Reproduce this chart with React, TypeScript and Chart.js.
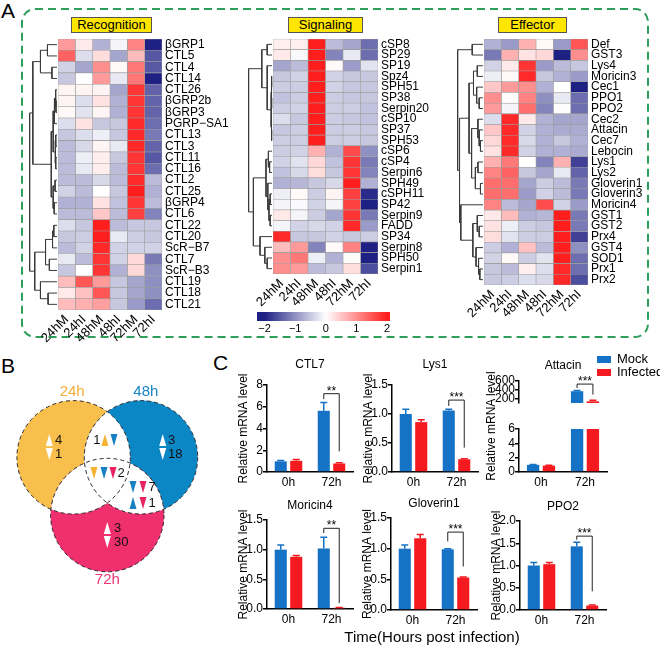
import React, { useEffect, useRef } from 'react';
import { Chart, registerables } from 'chart.js';

Chart.register(...registerables);

const FONT = 'Arial, "Liberation Sans", Helvetica, sans-serif';
Chart.defaults.font.family = FONT;
Chart.defaults.color = '#000';

// ================= Panel A : heatmaps =================
const hmColumns = ['24hM', '24hI', '48hM', '48hI', '72hM', '72hI'];

const recognitionGenes = ['βGRP1', 'CTL5', 'CTL4', 'CTL14', 'CTL26', 'βGRP2b', 'βGRP3', 'PGRP−SA1', 'CTL13', 'CTL3', 'CTL11', 'CTL16', 'CTL2', 'CTL25', 'βGRP4', 'CTL6', 'CTL22', 'CTL20', 'ScR−B7', 'CTL7', 'ScR−B3', 'CTL19', 'CTL18', 'CTL21'];
const recognitionValues = [
  [0.9, 0.2, -0.7, -0.1, 1.1, -2.0],
  [1.4, -0.3, 0.3, -0.8, 0.6, -1.5],
  [-0.4, -0.8, 1.0, 0.05, 1.2, -1.5],
  [-0.5, 0.0, 0.9, -0.2, 1.2, -2.0],
  [0.1, 0.1, 0.1, -0.8, 1.8, -1.4],
  [0.1, -0.3, 0.25, -0.7, 1.8, -1.4],
  [0.05, -0.25, 0.1, -0.7, 1.8, -1.4],
  [-0.3, 0.25, -0.5, -0.5, 1.9, -1.3],
  [-0.5, -0.3, -0.15, -0.5, 1.9, -1.2],
  [-0.6, -0.35, 0.1, -0.2, 1.9, -1.4],
  [-0.6, -0.15, 0.15, -0.5, 1.8, -1.5],
  [-0.6, -0.2, 0.15, -0.6, 1.8, -1.3],
  [-0.6, -0.6, -0.35, -0.6, 1.9, -0.6],
  [-0.4, -0.6, 0.0, -0.5, 2.0, -0.7],
  [-0.7, -0.7, 0.25, -0.55, 1.8, -0.6],
  [-0.6, -0.6, 0.5, -0.6, 1.7, -1.1],
  [-0.3, -0.5, 2.0, -0.6, -0.5, -0.5],
  [-0.5, -0.45, 2.0, -0.2, -0.45, -0.5],
  [-0.6, -0.4, 1.9, -0.4, -0.4, -0.4],
  [-0.2, -0.6, 1.8, -0.4, 0.35, -1.2],
  [-0.5, 0.0, 1.8, -0.7, 0.35, -1.0],
  [0.6, 1.5, 0.9, -0.5, -0.8, -1.0],
  [0.2, 0.55, 1.5, -0.5, -0.8, -1.0],
  [0.6, 0.7, 0.85, -0.5, -0.9, -1.3],
];
// dendrogram: [height, left, right], leaves = row index
const recognitionTree = [2.15,
  [1.9,
    [1.3, [0.75, 0, 1], [0.4, 2, 3]],
    [0.45,
      [0.3, [0.2, [0.12, 4, [0.08, 5, 6]], 7], [0.15, [0.1, 8, 9], [0.1, 10, 11]]],
      [0.3, [0.15, 12, 13], [0.22, 14, 15]]]],
  [1.75,
    [0.9, [0.35, [0.25, 16, 17], 18], [0.6, 19, 20]],
    [1.3, 21, [0.7, 22, 23]]]];

const signalingGenes = ['cSP8', 'SP29', 'SP19', 'Spz4', 'SPH51', 'SP38', 'Serpin20', 'cSP10', 'SP37', 'SPH53', 'cSP6', 'cSP4', 'Serpin6', 'SPH49', 'cSPH11', 'SP42', 'Serpin9', 'FADD', 'SP34', 'Serpin8', 'SPH50', 'Serpin1'];
const signalingValues = [
  [0.15, 0.15, 2.0, -0.6, -0.8, -1.3],
  [0.2, -0.05, 2.0, -1.1, -0.2, -1.3],
  [-0.8, -0.6, 2.0, 0.05, -0.9, -0.25],
  [-0.5, -0.4, 2.0, -0.4, -0.5, -0.5],
  [-0.45, -0.45, 2.0, -0.4, -0.5, -0.5],
  [-0.55, -0.45, 2.0, -0.45, -0.5, -0.5],
  [-0.45, -0.4, 2.0, -0.45, -0.45, -0.55],
  [-0.3, -0.5, 2.0, -0.45, -0.5, -0.55],
  [-0.5, -0.45, 2.0, -0.45, -0.45, -0.5],
  [-0.45, -0.45, 2.0, -0.45, -0.45, -0.5],
  [-0.45, -0.4, 0.7, -0.7, 1.6, -1.0],
  [-0.4, -0.25, 0.35, -0.55, 1.8, -1.2],
  [-0.55, -0.35, 0.3, -0.5, 1.8, -1.1],
  [-0.7, -0.65, -0.5, -0.35, 2.0, -0.7],
  [-0.15, 0.05, -0.45, 0.1, 1.7, -1.9],
  [-0.1, -0.05, -0.4, -0.1, 1.7, -2.0],
  [0.2, -0.1, -0.45, -0.8, 1.8, -1.2],
  [-0.1, -0.4, -0.35, -0.4, 1.9, -0.9],
  [1.9, -0.5, -0.5, -0.4, -0.5, -0.45],
  [0.6, 0.9, -1.1, 0.05, 1.1, -2.0],
  [1.0, 1.2, -0.15, -0.7, 0.03, -2.0],
  [1.0, 0.9, -0.6, -0.5, 0.3, -1.6],
];
const signalingTree = [1.95,
  [0.85, [0.4, 0, 1], [0.4, 2, [0.08, [0.05, [0.03, 3, 4], [0.03, 5, 6]], [0.05, 7, [0.03, 8, 9]]]]],
  [1.55,
    [0.5, [0.3, 10, [0.2, 11, 12]], [0.35, 13, [0.25, [0.15, 14, 15], [0.15, 16, 17]]]],
    [1.0, 18, [0.6, 19, [0.4, 20, 21]]]]];

const effectorGenes = ['Def', 'GST3', 'Lys4', 'Moricin3', 'Cec1', 'PPO1', 'PPO2', 'Cec2', 'Attacin', 'Cec7', 'Lebocin', 'Lys1', 'Lys2', 'Gloverin1', 'Gloverin3', 'Moricin4', 'GST1', 'GST2', 'Prx4', 'GST4', 'SOD1', 'Prx1', 'Prx2'];
const effectorValues = [
  [-0.7, -0.9, 0.7, 0.05, -0.9, 1.5],
  [-1.2, 0.7, 0.25, 0.35, -2.0, 1.0],
  [-0.4, 0.2, 1.8, -0.9, -0.6, -0.5],
  [-0.15, 0.05, 1.9, -0.5, -0.7, -0.9],
  [0.5, 0.9, 1.0, -0.7, 0.0, -2.0],
  [1.0, 0.03, 1.1, -1.0, -0.2, -1.3],
  [0.9, -0.1, 1.3, -1.1, -0.03, -1.3],
  [-0.3, 1.9, 0.2, -0.7, -0.8, -0.8],
  [0.5, 1.9, -0.4, -0.7, -0.75, -0.75],
  [0.35, 1.9, -0.35, -0.7, -0.5, -0.7],
  [0.25, 1.9, -0.4, -0.7, -0.7, -0.75],
  [0.7, 1.2, 0.02, -1.1, 0.7, -1.7],
  [1.1, 1.4, -0.5, -0.8, -0.2, -1.4],
  [1.3, 1.3, -0.8, -0.45, -0.6, -1.2],
  [1.3, 1.3, -0.9, -0.4, -0.6, -1.2],
  [1.1, -0.6, -0.8, 1.6, -0.4, -0.9],
  [0.2, 0.6, -0.7, -0.65, 2.0, -1.2],
  [0.25, -0.15, -0.45, -0.5, 2.0, -1.2],
  [0.3, -0.25, -0.45, -0.45, 2.0, -1.7],
  [-0.45, -0.7, 0.55, -0.6, 2.0, -1.0],
  [-0.4, 0.05, -0.45, -0.25, 2.0, -1.3],
  [-0.5, -0.6, 0.15, -0.3, 1.9, -1.3],
  [-0.5, -0.45, -0.3, -0.35, 1.9, -1.6],
];
const effectorTree = [2.0,
  [0.85, 0, 1],
  [1.85,
    [1.1,
      [0.75, [0.45, 2, 3], [0.5, 4, [0.3, 5, 6]]],
      [0.9, [0.4, 7, [0.3, 8, [0.2, 9, 10]]], [0.6, [0.4, 11, 12], [0.2, 13, 14]]]],
    [1.75, 15, [0.8, [0.45, 16, [0.3, 17, 18]], [0.55, 19, [0.35, 20, [0.25, 21, 22]]]]]]];

const colorbarTicks = [-2, -1, 0, 1, 2];

// ================= Panel B : Venn =================
const vennSets = ['24h', '48h', '72h'];
const vennUp = [4, 3, 3];
const vennDown = [1, 18, 30];
const vennShared = [
  { sets: [0, 1], dirs: ['up', 'down'], count: 1 },
  { sets: [0, 1, 2], dirs: ['down', 'down', 'down'], count: 2 },
  { sets: [1, 2], dirs: ['down', 'down'], count: 7 },
  { sets: [1, 2], dirs: ['up', 'down'], count: 1 },
];

// ================= Panel C : qPCR bars =================
const timePoints = ['0h', '72h'];
const ctl7Mock = [0.98, 5.63];
const ctl7MockErr = [0.08, 0.75];
const ctl7Inf = [1.03, 0.78];
const ctl7InfErr = [0.12, 0.08];
const lys1Mock = [1.0, 1.06];
const lys1MockErr = [0.08, 0.02];
const lys1Inf = [0.86, 0.22];
const lys1InfErr = [0.04, 0.01];
const attacinMock = [1.0, 368];
const attacinMockErr = [0.05, 18];
const attacinInf = [0.88, 138];
const attacinInfErr = [0.06, 25];
const moricin4Mock = [1.0, 1.02];
const moricin4MockErr = [0.08, 0.19];
const moricin4Inf = [0.88, 0.02];
const moricin4InfErr = [0.02, 0.005];
const gloverin1Mock = [1.0, 0.99];
const gloverin1MockErr = [0.06, 0.01];
const gloverin1Inf = [1.17, 0.53];
const gloverin1InfErr = [0.06, 0.01];
const ppo2Mock = [1.0, 1.43];
const ppo2MockErr = [0.07, 0.09];
const ppo2Inf = [1.03, 0.1];
const ppo2InfErr = [0.04, 0.01];

// significance brackets at 72h: top, left leg end, right leg end (in data units)
const ctl7Sig = { index: 1, top: 7.2, left: 6.7, right: 1.9, label: '**' };
const lys1Sig = { index: 1, top: 1.24, left: 1.14, right: 0.42, label: '***' };
const attacinSig = { index: 1, top: 530, left: 440, right: 290, label: '***' };
const moricin4Sig = { index: 1, top: 1.36, left: 1.28, right: 0.1, label: '**' };
const gloverin1Sig = { index: 1, top: 1.27, left: 1.12, right: 0.71, label: '***' };
const ppo2Sig = { index: 1, top: 1.66, left: 1.58, right: 0.42, label: '***' };

// ================= styling =================
const BLUE = '#1672C4';
const RED = '#F41A1F';
const NAVY = [30, 32, 132];
const WHITE = [255, 255, 255];
const HOT = [255, 30, 30];

function heatColor(v: number) {
  const t = Math.max(-1, Math.min(1, v / 2));
  const target = t < 0 ? NAVY : HOT;
  const f = Math.abs(t);
  const c = WHITE.map((w, i) => Math.round(w + (target[i] - w) * f));
  return `rgb(${c[0]},${c[1]},${c[2]})`;
}

function dendroSegments(tree: any) {
  const segs: any[] = [];
  const walk = (t: any): { y: number; h: number } => {
    if (typeof t === 'number') return { y: t, h: 0 };
    const [h, a, b] = t;
    const l = walk(a);
    const r = walk(b);
    segs.push([{ x: l.h, y: l.y }, { x: h, y: l.y }, { x: h, y: r.y }, { x: r.h, y: r.y }]);
    return { y: (l.y + r.y) / 2, h };
  };
  walk(tree);
  return segs;
}

function ChartBox({ x, y, w, h, make }: any) {
  const ref = useRef<HTMLCanvasElement | null>(null);
  useEffect(() => {
    const chart = new Chart(ref.current as HTMLCanvasElement, make());
    return () => chart.destroy();
  }, []);
  return <canvas ref={ref} width={w} height={h} style={{ position: 'absolute', left: x, top: y, width: w, height: h }} />;
}

// ---------- heatmap ----------
const HM_LPAD = 32;
const HM_RW = 72;
const HM_BH = 36;

function heatmapConfig(genes: string[], values: number[][]) {
  return {
    type: 'bar',
    data: {
      labels: genes,
      datasets: hmColumns.map((col, j) => ({
        label: col,
        data: values.map(() => 1),
        backgroundColor: values.map((row) => heatColor(row[j])),
        borderColor: '#9c9c9c',
        borderWidth: 0.6,
        borderSkipped: false,
        barPercentage: 1,
        categoryPercentage: 1,
      })),
    },
    options: {
      indexAxis: 'y',
      animation: false,
      responsive: false,
      layout: { padding: { left: HM_LPAD, right: 0, top: 0, bottom: 0 } },
      plugins: { legend: { display: false }, tooltip: { enabled: false } },
      scales: {
        x: {
          type: 'linear', stacked: true, min: 0, max: hmColumns.length,
          grid: { display: false, drawTicks: false }, border: { display: false },
          afterBuildTicks: (s: any) => { s.ticks = hmColumns.map((_, i) => ({ value: i + 0.5 })); },
          ticks: { autoSkip: false, minRotation: 45, maxRotation: 45, padding: 2, font: { size: 13 }, color: '#000', callback: (_v: any, i: number) => hmColumns[i] },
          afterFit: (s: any) => { s.height = HM_BH; s.paddingLeft = 0; s.paddingRight = 0; },
        },
        y: {
          type: 'category', stacked: true, position: 'right',
          grid: { display: false, drawTicks: false }, border: { display: false },
          ticks: { autoSkip: false, padding: 3, font: { size: 12 }, color: '#000' },
          afterFit: (s: any) => { s.width = HM_RW; s.paddingTop = 0; s.paddingBottom = 0; },
        },
      },
    },
  };
}

function dendroConfig(tree: any, n: number, treeMax: number) {
  return {
    type: 'scatter',
    data: {
      datasets: dendroSegments(tree).map((s) => ({
        data: s, showLine: true, borderColor: '#3a3a3a', borderWidth: 1, pointRadius: 0, clip: false, tension: 0,
      })),
    },
    options: {
      animation: false,
      responsive: false,
      layout: { padding: { left: 1, right: 1, top: 0, bottom: 0 } },
      plugins: { legend: { display: false }, tooltip: { enabled: false } },
      scales: {
        x: { type: 'linear', display: false, min: 0, max: treeMax, reverse: true },
        y: { type: 'linear', display: false, min: -0.5, max: n - 0.5, reverse: true },
      },
    },
  };
}

function Heatmap({ genes, values, tree, treeMax, cellsL, top, cellsW, cellsH, dendroW }: any) {
  return (
    <>
      <ChartBox x={cellsL - dendroW - 1} y={top} w={dendroW + 1} h={cellsH} make={() => dendroConfig(tree, genes.length, treeMax)} />
      <ChartBox x={cellsL - HM_LPAD} y={top} w={HM_LPAD + cellsW + HM_RW} h={cellsH + HM_BH} make={() => heatmapConfig(genes, values)} />
    </>
  );
}

// ---------- colour bar ----------
function colorbarConfig() {
  const gradientPlugin = {
    id: 'gradientFill',
    beforeDatasetsDraw(chart: any) {
      const { ctx, chartArea: a } = chart;
      const xs = chart.scales.x;
      const g = ctx.createLinearGradient(a.left, 0, a.right, 0);
      const pos = (v: number) => Math.max(0, Math.min(1, (xs.getPixelForValue(v) - a.left) / (a.right - a.left)));
      g.addColorStop(0, heatColor(xs.min));
      colorbarTicks.forEach((v) => g.addColorStop(pos(v), heatColor(v)));
      g.addColorStop(1, heatColor(xs.max));
      ctx.save();
      ctx.fillStyle = g;
      ctx.fillRect(a.left, a.top, a.right - a.left, a.bottom - a.top);
      ctx.restore();
    },
  };
  return {
    type: 'scatter',
    data: { datasets: [] },
    options: {
      animation: false,
      responsive: false,
      layout: { padding: { left: 7, right: 10, top: 0, bottom: 0 } },
      plugins: { legend: { display: false }, tooltip: { enabled: false } },
      scales: {
        x: {
          type: 'linear', min: -2.25, max: 2.1,
          grid: { display: false, drawTicks: false }, border: { display: false },
          afterBuildTicks: (s: any) => { s.ticks = colorbarTicks.map((v) => ({ value: v })); },
          ticks: { autoSkip: false, padding: 1, font: { size: 11 }, color: '#000', callback: (v: any) => (v < 0 ? '−' + Math.abs(v) : String(v)) },
          afterFit: (s: any) => { s.height = 15; s.paddingLeft = 0; s.paddingRight = 0; },
        },
        y: { display: false, min: 0, max: 1 },
      },
    },
    plugins: [gradientPlugin],
  };
}

// ---------- Venn ----------
const VENN_R = 1;
const vennCx = [-0.594, 0.594, 0];
const vennCy = [0, 0, -1.018];
const vennFill = ['#F9BF4C', '#0B87C6', '#EF2F6E'];
const vennMarkColor = ['#F6B233', '#1680C2', '#E92461'];
const vennLabelColor = ['#F4AF3A', '#1785C6', '#EC3670'];
const VENN_LABEL_POS = [[-0.62, 1.15], [0.68, 1.15], [0, -2.16]];
const VENN_SOLO_POS = [
  { ax: -1.023, nx: -0.922, uy: 0.305, dy: 0.058 },
  { ax: 0.977, nx: 1.071, uy: 0.305, dy: 0.058 },
  { ax: 0, nx: 0.118, uy: -1.247, dy: -1.494 },
];
const VENN_SHARED_POS = [
  { y: 0.305, marks: [-0.041, 0.118], num: -0.182 },
  { y: -0.277, marks: [-0.235, -0.058, 0.1], num: 0.242 },
  { y: -0.524, marks: [0.453, 0.63], num: 0.788 },
  { y: -0.806, marks: [0.453, 0.63], num: 0.788 },
];

function tri(ctx: any, x: number, y: number, dir: string, color: string) {
  const w = 7, h = 12;
  ctx.fillStyle = color;
  ctx.beginPath();
  if (dir === 'up') {
    ctx.moveTo(x, y - h / 2); ctx.lineTo(x + w / 2, y + h / 2); ctx.lineTo(x - w / 2, y + h / 2);
  } else {
    ctx.moveTo(x, y + h / 2); ctx.lineTo(x + w / 2, y - h / 2); ctx.lineTo(x - w / 2, y - h / 2);
  }
  ctx.closePath();
  ctx.fill();
}

function vennConfig() {
  const vennPlugin = {
    id: 'venn',
    afterDatasetsDraw(chart: any) {
      const { ctx } = chart;
      const xs = chart.scales.x, ys = chart.scales.y;
      const rp = xs.getPixelForValue(VENN_R) - xs.getPixelForValue(0);
      const cs = vennCx.map((cx, i) => [xs.getPixelForValue(cx), ys.getPixelForValue(vennCy[i])]);
      const circle = (c: number[]) => { ctx.beginPath(); ctx.arc(c[0], c[1], rp, 0, Math.PI * 2); };
      ctx.save();
      cs.forEach((c, i) => { ctx.fillStyle = vennFill[i]; circle(c); ctx.fill(); });
      for (let i = 0; i < cs.length; i++) {
        for (let j = i + 1; j < cs.length; j++) {
          ctx.save(); circle(cs[i]); ctx.clip(); ctx.fillStyle = '#fff'; circle(cs[j]); ctx.fill(); ctx.restore();
        }
      }
      ctx.setLineDash([4, 3]);
      ctx.strokeStyle = '#2a2a2a';
      ctx.lineWidth = 1;
      cs.forEach((c) => { circle(c); ctx.stroke(); });
      ctx.setLineDash([]);
      ctx.font = `15px ${FONT}`;
      ctx.textAlign = 'center';
      ctx.textBaseline = 'middle';
      vennSets.forEach((s, i) => {
        ctx.fillStyle = vennLabelColor[i];
        ctx.fillText(s, xs.getPixelForValue(VENN_LABEL_POS[i][0]), ys.getPixelForValue(VENN_LABEL_POS[i][1]));
      });
      ctx.font = `13px ${FONT}`;
      VENN_SOLO_POS.forEach((p, i) => {
        tri(ctx, xs.getPixelForValue(p.ax), ys.getPixelForValue(p.uy), 'up', '#fff');
        tri(ctx, xs.getPixelForValue(p.ax), ys.getPixelForValue(p.dy), 'down', '#fff');
        ctx.fillStyle = '#111';
        ctx.textAlign = 'left';
        ctx.fillText(String(vennUp[i]), xs.getPixelForValue(p.nx), ys.getPixelForValue(p.uy));
        ctx.fillText(String(vennDown[i]), xs.getPixelForValue(p.nx), ys.getPixelForValue(p.dy));
      });
      vennShared.forEach((g, k) => {
        const p = VENN_SHARED_POS[k];
        const py = ys.getPixelForValue(p.y);
        g.sets.forEach((s, m) => tri(ctx, xs.getPixelForValue(p.marks[m]), py, g.dirs[m], vennMarkColor[s]));
        ctx.fillStyle = '#111';
        ctx.textAlign = 'center';
        ctx.fillText(String(g.count), xs.getPixelForValue(p.num), py);
      });
      ctx.restore();
    },
  };
  return {
    type: 'scatter',
    data: { datasets: [] },
    options: {
      animation: false,
      responsive: false,
      layout: { padding: 0 },
      plugins: { legend: { display: false }, tooltip: { enabled: false } },
      scales: {
        x: { type: 'linear', display: false, min: -1.892, max: 1.899 },
        y: { type: 'linear', display: false, min: -2.428, max: 1.54 },
      },
    },
    plugins: [vennPlugin],
  };
}

// ---------- bar charts ----------
const errorBarPlugin = {
  id: 'errorBars',
  afterDatasetsDraw(chart: any) {
    const { ctx, chartArea: a } = chart;
    const ys = chart.scales.y;
    ctx.save();
    ctx.beginPath();
    ctx.rect(a.left, a.top - 1, a.right - a.left, a.bottom - a.top + 1);
    ctx.clip();
    chart.data.datasets.forEach((ds: any, di: number) => {
      const meta = chart.getDatasetMeta(di);
      (ds.errors || []).forEach((e: number, i: number) => {
        const bar = meta.data[i];
        const v = ds.data[i];
        const yTop = ys.getPixelForValue(v + e);
        const yVal = ys.getPixelForValue(v);
        ctx.strokeStyle = ds.backgroundColor;
        ctx.lineWidth = 1.5;
        ctx.beginPath();
        ctx.moveTo(bar.x, yVal);
        ctx.lineTo(bar.x, yTop);
        ctx.moveTo(bar.x - 3.5, yTop);
        ctx.lineTo(bar.x + 3.5, yTop);
        ctx.stroke();
      });
    });
    ctx.restore();
  },
};

function bracketPlugin(b: any) {
  return {
    id: 'sigBracket',
    afterDatasetsDraw(chart: any) {
      if (!b) return;
      const { ctx } = chart;
      const ys = chart.scales.y;
      const m = chart.getDatasetMeta(0).data[b.index];
      const n = chart.getDatasetMeta(1).data[b.index];
      const yT = ys.getPixelForValue(b.top);
      ctx.save();
      ctx.strokeStyle = '#222';
      ctx.lineWidth = 1;
      ctx.beginPath();
      ctx.moveTo(m.x, ys.getPixelForValue(b.left));
      ctx.lineTo(m.x, yT);
      ctx.lineTo(n.x, yT);
      ctx.lineTo(n.x, ys.getPixelForValue(b.right));
      ctx.stroke();
      ctx.fillStyle = '#000';
      ctx.font = `12px ${FONT}`;
      ctx.textAlign = 'center';
      ctx.textBaseline = 'alphabetic';
      ctx.fillText(b.label, (m.x + n.x) / 2, yT + 1);
      ctx.restore();
    },
  };
}

const Y_W = 31;
const X_H = 20;
const PAD_R = 4;

function exprConfig(o: any) {
  const titleH = o.title ? o.titleH : 0;
  const yW = o.yW || Y_W;
  return {
    type: 'bar',
    data: {
      labels: timePoints,
      datasets: [
        { label: 'Mock', data: o.mock, errors: o.mockErr, backgroundColor: BLUE, barPercentage: 0.78, categoryPercentage: 0.72 },
        { label: 'Infected', data: o.inf, errors: o.infErr, backgroundColor: RED, barPercentage: 0.78, categoryPercentage: 0.72 },
      ],
    },
    options: {
      animation: false,
      responsive: false,
      layout: { padding: { left: 0, right: PAD_R, top: o.padTop || 0, bottom: 0 } },
      plugins: {
        legend: { display: false },
        tooltip: { enabled: false },
        title: {
          display: !!o.title, text: o.title || '', fullSize: false, color: '#000',
          font: { size: 12, weight: 'normal' }, padding: { top: 0, bottom: titleH - 14.4 },
        },
      },
      scales: {
        x: {
          display: o.showX !== false,
          grid: { display: false, drawTicks: false },
          border: { display: true, color: '#000', width: 1.5 },
          ticks: { padding: 3, font: { size: 12 }, color: '#000' },
          afterFit: (s: any) => { s.height = X_H; s.paddingLeft = 0; s.paddingRight = 0; },
        },
        y: {
          min: o.yMin, max: o.yMax,
          grid: { display: true, drawOnChartArea: false, drawTicks: true, tickLength: 4, color: '#000', lineWidth: 1.5 },
          border: { display: true, color: '#000', width: 1.5 },
          title: { display: o.yTitle !== false, text: 'Relative mRNA level', color: '#000', font: { size: 12 }, padding: 0 },
          afterBuildTicks: (s: any) => { s.ticks = o.yTicks.map((v: number) => ({ value: v })); },
          ticks: { autoSkip: false, padding: 0, font: { size: 12 }, color: '#000', callback: (v: any) => Number(v).toFixed(o.decimals) },
          afterFit: (s: any) => { s.width = yW; s.paddingTop = 0; s.paddingBottom = 0; },
        },
      },
    },
    plugins: [errorBarPlugin, bracketPlugin(o.bracket)],
  };
}

function Expr(o: any) {
  const titleH = o.title ? o.titleH : 0;
  const yW = o.yW || Y_W;
  const x = o.areaL - yW;
  const y = o.areaT - titleH - (o.padTop || 0);
  const w = yW + o.areaW + PAD_R;
  const h = titleH + (o.padTop || 0) + o.areaH + (o.showX === false ? 0 : X_H);
  return <ChartBox x={x} y={y} w={w} h={h} make={() => exprConfig(o)} />;
}

const abs = (l: number, t: number, extra: any = {}) => ({ position: 'absolute', left: l, top: t, ...extra });

function TitleBox({ x, y, w, text }: any) {
  return (
    <div style={abs(x, y, { width: w, height: 16, boxSizing: 'border-box', background: '#FFE600', border: '1px solid #555', fontSize: 13, lineHeight: '14px', textAlign: 'center', color: '#000' })}>{text}</div>
  );
}

export default function App() {
  const letter = { fontSize: 21, lineHeight: '21px', color: '#000' };
  return (
    <div style={{ position: 'absolute', left: 0, top: 0, width: 660, height: 645, background: '#fff', overflow: 'hidden', fontFamily: FONT }}>
      <svg width={660} height={645} style={{ position: 'absolute', left: 0, top: 0 }}>
        <rect x={22} y={9} width={626} height={328} rx={13} ry={13} fill="none" stroke="#2E9E5B" strokeWidth={2} strokeDasharray="8 5" />
      </svg>

      <div style={abs(1, 0, letter)}>A</div>
      <div style={abs(1, 355, letter)}>B</div>
      <div style={abs(213, 352, letter)}>C</div>

      <TitleBox x={71} y={17} w={81} text="Recognition" />
      <TitleBox x={288} y={17} w={75} text="Signaling" />
      <TitleBox x={498} y={17} w={69} text="Effector" />

      <Heatmap genes={recognitionGenes} values={recognitionValues} tree={recognitionTree} treeMax={2.2}
        cellsL={58} top={39} cellsW={104} cellsH={271} dendroW={29} />
      <Heatmap genes={signalingGenes} values={signalingValues} tree={signalingTree} treeMax={2.0}
        cellsL={273} top={39} cellsW={105} cellsH={235} dendroW={25} />
      <Heatmap genes={effectorGenes} values={effectorValues} tree={effectorTree} treeMax={2.05}
        cellsL={484} top={39} cellsW={104} cellsH={246} dendroW={27} />

      <ChartBox x={250} y={312} w={150} h={24} make={colorbarConfig} />

      <ChartBox x={0} y={370} w={215} h={225} make={vennConfig} />

      <Expr title="CTL7" titleH={28} areaL={267} areaT={385} areaW={86} areaH={87}
        mock={ctl7Mock} mockErr={ctl7MockErr} inf={ctl7Inf} infErr={ctl7InfErr}
        yMin={0} yMax={8} yTicks={[0, 2, 4, 6, 8]} decimals={0} bracket={ctl7Sig} />
      <Expr title="Lys1" titleH={28} areaL={392} areaT={385} areaW={86} areaH={87}
        mock={lys1Mock} mockErr={lys1MockErr} inf={lys1Inf} infErr={lys1InfErr}
        yMin={0} yMax={1.5} yTicks={[0, 0.5, 1.0, 1.5]} decimals={1} bracket={lys1Sig} />
      <Expr title="Attacin" titleH={23} areaL={519} areaT={381} areaW={88} areaH={42} showX={false} yTitle={false} yW={36}
        mock={attacinMock} mockErr={attacinMockErr} inf={attacinInf} infErr={attacinInfErr}
        yMin={100} yMax={600} yTicks={[200, 400, 600]} decimals={0} bracket={attacinSig} />
      <Expr areaL={519} areaT={429} areaW={88} areaH={43} padTop={8} yTitle={false} yW={36}
        mock={attacinMock} mockErr={attacinMockErr} inf={attacinInf} infErr={attacinInfErr}
        yMin={0} yMax={6} yTicks={[0, 2, 4, 6]} decimals={0} />
      <div style={abs(436, 419, { width: 110, height: 14, fontSize: 12, lineHeight: '14px', textAlign: 'center', whiteSpace: 'nowrap', transform: 'rotate(-90deg)', color: '#000' })}>Relative mRNA level</div>

      <Expr title="Moricin4" titleH={22} areaL={267} areaT={520} areaW={86} areaH={89}
        mock={moricin4Mock} mockErr={moricin4MockErr} inf={moricin4Inf} infErr={moricin4InfErr}
        yMin={0} yMax={1.5} yTicks={[0, 0.5, 1.0, 1.5]} decimals={1} bracket={moricin4Sig} />
      <Expr title="Gloverin1" titleH={22} areaL={391} areaT={518} areaW={86} areaH={92}
        mock={gloverin1Mock} mockErr={gloverin1MockErr} inf={gloverin1Inf} infErr={gloverin1InfErr}
        yMin={0} yMax={1.5} yTicks={[0, 0.5, 1.0, 1.5]} decimals={1} bracket={gloverin1Sig} />
      <Expr title="PPO2" titleH={22} areaL={520} areaT={521} areaW={86} areaH={89}
        mock={ppo2Mock} mockErr={ppo2MockErr} inf={ppo2Inf} infErr={ppo2InfErr}
        yMin={0} yMax={2.0} yTicks={[0, 0.5, 1.0, 1.5, 2.0]} decimals={1} bracket={ppo2Sig} />

      <div style={abs(597, 356, { width: 14, height: 7, background: BLUE })} />
      <div style={abs(617, 351, { fontSize: 13, lineHeight: '15px', color: '#000' })}>Mock</div>
      <div style={abs(597, 369, { width: 14, height: 7, background: RED })} />
      <div style={abs(617, 364, { fontSize: 13, lineHeight: '15px', color: '#000', whiteSpace: 'nowrap' })}>Infected</div>

      <div style={abs(312, 629, { width: 240, fontSize: 15, lineHeight: '15px', textAlign: 'center', color: '#000', whiteSpace: 'nowrap' })}>Time(Hours post infection)</div>
    </div>
  );
}
